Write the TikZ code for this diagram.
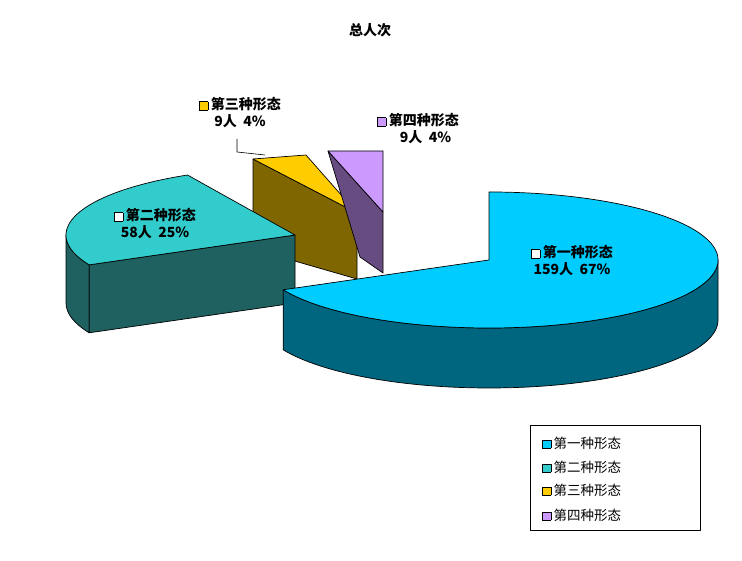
\documentclass[tikz,border=0pt]{standalone}
\usepackage{fontspec}
\setmainfont{Noto Sans CJK SC}
\definecolor{bluetop}{HTML}{00CCFF}\definecolor{blueside}{HTML}{006680}
\definecolor{tealtop}{HTML}{33CCCC}\definecolor{tealside}{HTML}{1F6060}
\definecolor{yeltop}{HTML}{FFCC00}\definecolor{yelside}{HTML}{806600}
\definecolor{purtop}{HTML}{CC99FF}\definecolor{purside}{HTML}{664C80}
\newcommand\sqbox[1]{{\setlength\fboxsep{0pt}\setlength\fboxrule{0.6pt}\fcolorbox{black}{#1}{\rule{0pt}{8pt}\rule{8pt}{0pt}}}}
\begin{document}
\begin{tikzpicture}[x=1pt,y=1pt,line join=round,
  face/.style={draw=black,line width=0.7pt},
  lbl/.style={font=\bfseries\fontsize{14}{17}\selectfont,align=center,inner sep=0pt},
  leg/.style={font=\fontsize{13.5}{15}\selectfont,anchor=west,inner sep=0pt}]
\useasboundingbox (0,0) rectangle (742,560);
\fill[white] (0,0) rectangle (742,560);
% yellow slice
\fill[face,fill=yelside] (253,401)--(357,347)--(357,281)--(253,311)--cycle;
\fill[face,fill=yeltop] (253,401)--(306,405)--(357,347)--cycle;
% purple slice
\fill[face,fill=purside] (328,409)--(383,348)--(383,287)--(360,303)--cycle;
\fill[face,fill=purtop] (328,409)--(383,409)--(383,348)--cycle;
% teal slice
\fill[face,fill=tealside] (66,325) arc[start angle=180,end angle=206,x radius=229,y radius=68]
   -- ++(0,-68) arc[start angle=206,end angle=180,x radius=229,y radius=68] -- cycle;
\fill[face,fill=tealside] (295,325)--(89.2,295.2)--(89.2,227.2)--(295,257)--cycle;
\fill[face,fill=tealtop] (295,325)--(187.5,385) arc[start angle=118,end angle=206,x radius=229,y radius=68]--cycle;
% blue slice
\fill[face,fill=blueside] (283.2,270.2) arc[start angle=206,end angle=360,x radius=229,y radius=68]
   -- ++(0,-60) arc[start angle=360,end angle=206,x radius=229,y radius=68] -- cycle;
\fill[face,fill=bluetop] (489,300)--(283.2,270.2) arc[start angle=206,end angle=450,x radius=229,y radius=68]--cycle;
% leader
\coordinate (ld) at (265,405);
\node[lbl] (title) at (370,530) {总人次};
\node[lbl] (l3) at (240,447) {\sqbox{yeltop}\,第三种形态\\9人\ \ 4\%};
\draw[black,line width=0.6pt] (237,421)--(237,408)--(ld);
\node[lbl] (l4) at (418,431) {\sqbox{purtop}\,第四种形态\\\hspace*{15pt}9人\ \ 4\%};
\node[lbl] (l2) at (155,336) {\sqbox{white}\,第二种形态\\58人\ \ 25\%};
\node[lbl] (l1) at (572,299) {\sqbox{white}\,第一种形态\\159人\ \ 67\%};
% legend
\draw[black,line width=0.6pt] (530,30) rectangle (700,135);
\node[leg] (g1) at (542,117) {\sqbox{bluetop}\,第一种形态};
\node[leg] (g2) at (542,93) {\sqbox{tealtop}\,第二种形态};
\node[leg] (g3) at (542,70) {\sqbox{yeltop}\,第三种形态};
\node[leg] (g4) at (542,45) {\sqbox{purtop}\,第四种形态};
\end{tikzpicture}
\end{document}
